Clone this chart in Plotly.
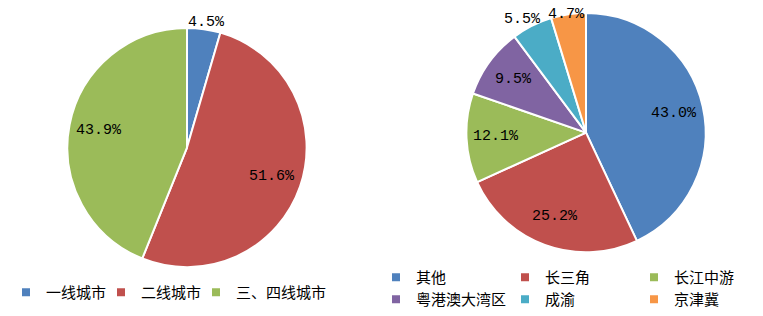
import math
import plotly.graph_objects as go

tier_labels = ["一线城市", "二线城市", "三、四线城市"]
tier_values = [4.5, 51.6, 43.9]
tier_colors = ["#4F81BD", "#C0504D", "#9BBB59"]
tier_outside = [True, False, False]

region_labels = ["其他", "长三角", "长江中游", "粤港澳大湾区", "成渝", "京津冀"]
region_values = [43.0, 25.2, 12.1, 9.5, 5.5, 4.7]
region_colors = ["#4F81BD", "#C0504D", "#9BBB59", "#8064A2", "#4BACC6", "#F79646"]
region_outside = [False, False, False, False, True, True]

W, H = 763, 316
R = 120
LEFT_C = (187, 148)
RIGHT_C = (586, 133)


def dom(c):
    cx, cy = c
    return dict(x=[(cx - R) / W, (cx + R) / W], y=[1 - (cy + R) / H, 1 - (cy - R) / H])


line = dict(color="white", width=2)
fig = go.Figure()
fig.add_trace(go.Pie(
    labels=tier_labels, values=tier_values, sort=False, direction="clockwise",
    marker=dict(colors=tier_colors, line=line), textinfo="none",
    domain=dom(LEFT_C), showlegend=False, hoverinfo="label+value",
))
fig.add_trace(go.Pie(
    labels=region_labels, values=region_values, sort=False, direction="clockwise",
    marker=dict(colors=region_colors, line=line), textinfo="none",
    domain=dom(RIGHT_C), showlegend=False, hoverinfo="label+value",
))

# legend-only traces (tiny, invisible pies) so legend entries can be spaced like the original
tiny = dict(x=[0, 0.0005], y=[0, 0.0005])
legline = dict(color="white", width=4)
tier_entry_w = [50, 50, 110]
for lab, val, col, ew in zip(tier_labels, tier_values, tier_colors, tier_entry_w):
    fig.add_trace(go.Pie(
        labels=[lab], values=[val], marker=dict(colors=[col], line=legline),
        textinfo="none", domain=tiny, legend="legend", legendwidth=ew, hoverinfo="skip",
    ))
fig.add_trace(go.Pie(
    labels=region_labels[:3], values=region_values[:3], sort=False,
    marker=dict(colors=region_colors[:3], line=legline), textinfo="none",
    domain=tiny, legend="legend2", hoverinfo="skip",
))
fig.add_trace(go.Pie(
    labels=region_labels[3:], values=region_values[3:], sort=False,
    marker=dict(colors=region_colors[3:], line=legline), textinfo="none",
    domain=tiny, legend="legend3", hoverinfo="skip",
))

txtfont = dict(family="Liberation Mono", size=15, color="#000000")
CHAR_W, TXT_H = 9.0, 14.0


def add_labels(values, outside, center):
    cx, cy = center
    total = sum(values)
    cum = 0.0
    placed = []
    for v, out in zip(values, outside):
        mid = (cum + v / 2) / total * 2 * math.pi
        cum += v
        ux, uy = math.sin(mid), math.cos(mid)
        text = f"{v:.1f}%"
        hw = len(text) * CHAR_W / 2
        if not out:
            px, py = cx + 0.75 * R * ux, cy - 0.75 * R * uy
        else:
            px = cx + R * ux + hw * ux
            py = cy - R * uy - (TXT_H / 2) * uy
            py = max(py, 15)
        placed.append([px, py, hw, out, text])
    # push overlapping outside labels apart horizontally
    outs = [p for p in placed if p[3]]
    for a, b in zip(outs, outs[1:]):
        need = a[2] + b[2] + 8
        if abs(a[1] - b[1]) < TXT_H and abs(a[0] - b[0]) < need:
            shift = (need - abs(a[0] - b[0])) / 2
            if a[0] < b[0]:
                a[0] -= shift
                b[0] += shift
            else:
                a[0] += shift
                b[0] -= shift
    for px, py, hw, out, text in placed:
        fig.add_annotation(x=px / W, y=1 - py / H, xref="paper", yref="paper",
                           text=text, showarrow=False, xanchor="center", yanchor="middle",
                           font=txtfont)


add_labels(tier_values, tier_outside, LEFT_C)
add_labels(region_values, region_outside, RIGHT_C)

legfont = dict(family="Noto Sans CJK SC", size=15, color="#000000")
common = dict(orientation="h", xref="paper", yref="paper",
              yanchor="top", font=legfont, itemwidth=30, bgcolor="rgba(0,0,0,0)",
              entrywidthmode="pixels", traceorder="normal")
fig.update_layout(
    width=W, height=H, margin=dict(l=0, r=0, t=0, b=0),
    paper_bgcolor="white", plot_bgcolor="white",
    legend=dict(x=6 / W, xanchor="left", y=1 - 276 / H, **common),
    legend2=dict(x=1, xanchor="right", y=1 - 261 / H, entrywidth=84, **common),
    legend3=dict(x=1, xanchor="right", y=1 - 284 / H, entrywidth=84, **common),
)
fig.write_html("out.html")
